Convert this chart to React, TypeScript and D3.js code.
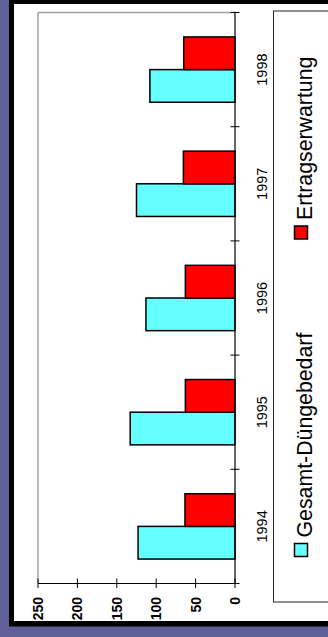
import React from "react";
import * as d3 from "d3";

const categories = ["1994", "1995", "1996", "1997", "1998"];
const seriesNames = ["Gesamt-Düngebedarf", "Ertragserwartung"];
const gesamtValues = [123, 133, 113, 125, 108];
const ertragValues = [63.5, 63, 63, 65.5, 65];
const valueTicks = [0, 50, 100, 150, 200, 250];
const seriesColors = ["#66FFFF", "#FF0000"];

const FONT = "'Liberation Sans', Arial, sans-serif";

export default function App() {
  const W = 328;
  const H = 637;
  const plotTop = 12.5;
  const plotBottom = 583.5;
  const plotLeft = 38;
  const plotRight = 235;

  const x = d3.scaleLinear().domain([0, 250]).range([plotRight, plotLeft]);
  const y = d3.scaleBand<string>().domain(categories).range([plotBottom, plotTop]);
  const bw = y.bandwidth();
  const groupW = bw * 0.572;
  // within a band: red (second series) on top, cyan (first series) below
  const inner = d3
    .scaleBand<string>()
    .domain([seriesNames[1], seriesNames[0]])
    .range([(bw - groupW) / 2, (bw + groupW) / 2]);

  const seriesData = [gesamtValues, ertragValues];

  const bandEdges = categories.map((c) => y(c)!).concat([plotBottom]);

  return (
    <svg
      width={W}
      height={H}
      style={{ position: "absolute", left: 0, top: 0, display: "block" }}
      fontFamily={FONT}
    >
      <rect x={0} y={0} width={W} height={H} fill="#606099" />
      <rect x={9} y={-10} width={340} height={636.5} fill="#000" />
      <rect x={14} y={4} width={330} height={617} fill="#fff" />

      {/* plot area border */}
      <line x1={plotLeft} x2={plotRight} y1={plotTop} y2={plotTop} stroke="#a0a0a0" strokeWidth={1.5} />
      <line x1={plotLeft} x2={plotLeft} y1={plotTop} y2={plotBottom} stroke="#a0a0a0" strokeWidth={1.5} />

      {/* bars */}
      {seriesData.map((vals, si) =>
        vals.map((v, i) => {
          const c = categories[i];
          const yy = y(c)! + inner(seriesNames[si])!;
          return (
            <rect
              key={`${si}-${i}`}
              x={x(v)}
              y={yy}
              width={x(0) - x(v)}
              height={inner.bandwidth()}
              fill={seriesColors[si]}
              stroke="#000"
              strokeWidth={1.5}
            />
          );
        })
      )}

      {/* category axis */}
      <line x1={plotRight} x2={plotRight} y1={plotTop} y2={plotBottom} stroke="#000" strokeWidth={1.2} />
      {bandEdges.map((e, i) => (
        <line key={i} x1={plotRight - 4.5} x2={plotRight + 4.5} y1={e} y2={e} stroke="#000" strokeWidth={1} />
      ))}
      {categories.map((c) => {
        const cy = y(c)! + bw / 2;
        return (
          <text
            key={c}
            transform={`translate(267,${cy}) rotate(-90)`}
            textAnchor="middle"
            fontSize={14.5}
            fill="#000"
          >
            {c}
          </text>
        );
      })}

      {/* value axis */}
      <line x1={plotLeft} x2={plotRight} y1={plotBottom} y2={plotBottom} stroke="#000" strokeWidth={1.2} />
      {valueTicks.map((t) => (
        <g key={t}>
          <line x1={x(t)} x2={x(t)} y1={plotBottom - 5} y2={plotBottom + 4.5} stroke="#000" strokeWidth={1} />
          <text
            transform={`translate(${x(t)},597) rotate(-90)`}
            textAnchor="end"
            dy="0.36em"
            fontSize={14}
            fontWeight="bold"
            fill="#000"
          >
            {t}
          </text>
        </g>
      ))}

      {/* legend */}
      <rect x={273.5} y={11} width={80} height={591} fill="none" stroke="#222" strokeWidth={1} />
      {seriesNames.map((name, i) => {
        const sy = i === 0 ? 543.5 : 226;
        return (
          <g key={name}>
            <rect x={294.5} y={sy} width={13} height={13} fill={seriesColors[i]} stroke="#000" strokeWidth={1.5} />
            <text
              transform={`translate(312,${sy - 6}) rotate(-90)`}
              textAnchor="start"
              fontSize={21.3}
              fill="#000"
            >
              {name}
            </text>
          </g>
        );
      })}
    </svg>
  );
}
